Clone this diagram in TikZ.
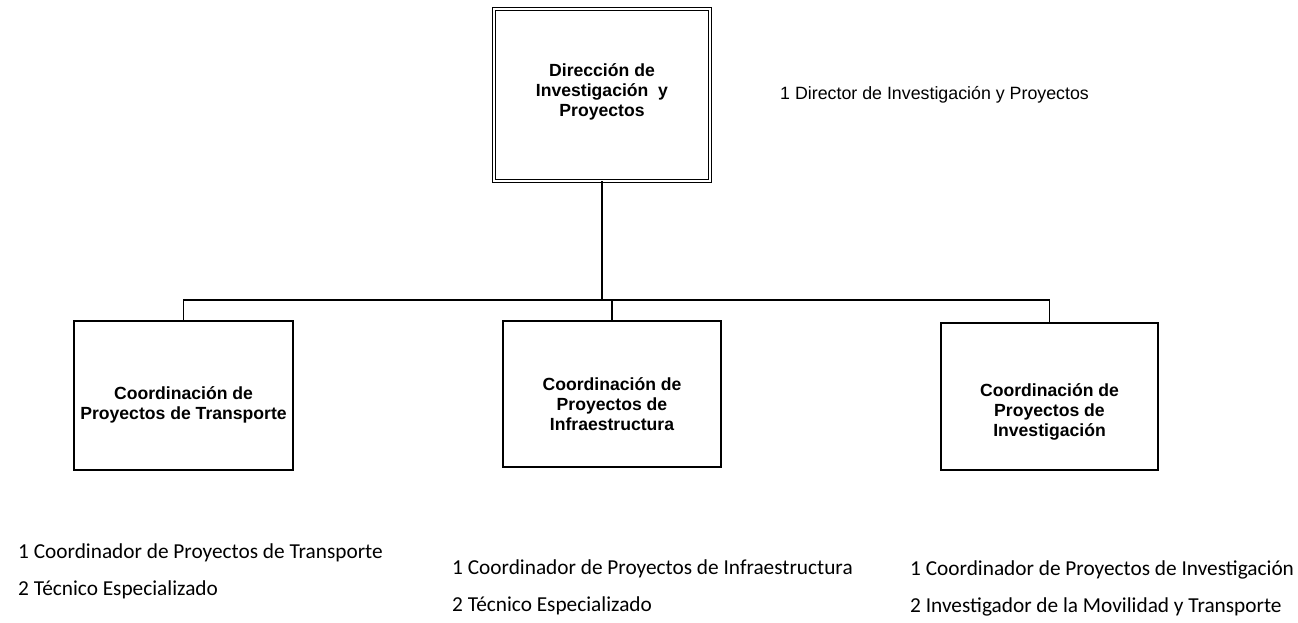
\documentclass[tikz,border=0pt]{standalone}
\usepackage{fontspec}
\setmainfont{Liberation Sans}
\newfontfamily\calibri{Carlito}
\begin{document}
\begin{tikzpicture}[x=1pt,y=-1pt,
  unitbox/.style={draw, line width=1.5pt, inner sep=0pt, outer sep=0pt},
  boxlabel/.style={align=center, font=\fontsize{17.6}{19.8}\selectfont\bfseries, inner sep=0pt},
  staff/.style={anchor=base west, font=\calibri\fontsize{21.3}{24}\selectfont, inner sep=0pt},
  link/.style={line width=1.5pt}]
\useasboundingbox (0,0) rectangle (1298,623);
% top box
\node[draw, double, double distance=1.8pt, line width=1.3pt, inner sep=0pt, outer sep=0pt,
      minimum width=216pt, minimum height=172pt] (dir) at (602,95) {};
\node[boxlabel] (dirl) at (602,92) {Dirección de\\Investigación\ \ y\\Proyectos};
\node[anchor=west, font=\fontsize{17.8}{20}\selectfont, inner sep=0pt] (dirs) at (780,95) {1 Director de Investigación y Proyectos};
% coordination boxes
\node[unitbox, minimum width=219pt, minimum height=149pt] (c1) at (183.5,395.5) {};
\node[unitbox, minimum width=218pt, minimum height=146pt] (c2) at (612,394) {};
\node[unitbox, minimum width=217pt, minimum height=147pt] (c3) at (1049.5,396.5) {};
\node[boxlabel] (c1l) at (183.5,405) {Coordinación de\\Proyectos de Transporte};
\node[boxlabel] (c2l) at (612,404) {Coordinación de\\Proyectos de\\Infraestructura};
\node[boxlabel] (c3l) at (1049.5,412) {Coordinación de\\Proyectos de\\Investigación};
% connectors
\coordinate (bar) at (602,300);
\draw[link] (dir.south) -- (bar);
\draw[link] (c1.north) -- (c1.north |- bar) -- (c3.north |- bar) -- (c3.north);
\draw[link] (c2.north) -- (c2.north |- bar);
% staff lists
\node[staff] (s1a) at (18,558) {1 Coordinador de Proyectos de Transporte};
\node[staff] (s1b) at (18,595) {2 Técnico Especializado};
\node[staff] (s2a) at (452,574) {1 Coordinador de Proyectos de Infraestructura};
\node[staff] (s2b) at (452,611) {2 Técnico Especializado};
\node[staff] (s3a) at (910,575) {1 Coordinador de Proyectos de Investigación};
\node[staff] (s3b) at (910,612) {2 Investigador de la Movilidad y Transporte};
\end{tikzpicture}
\end{document}
